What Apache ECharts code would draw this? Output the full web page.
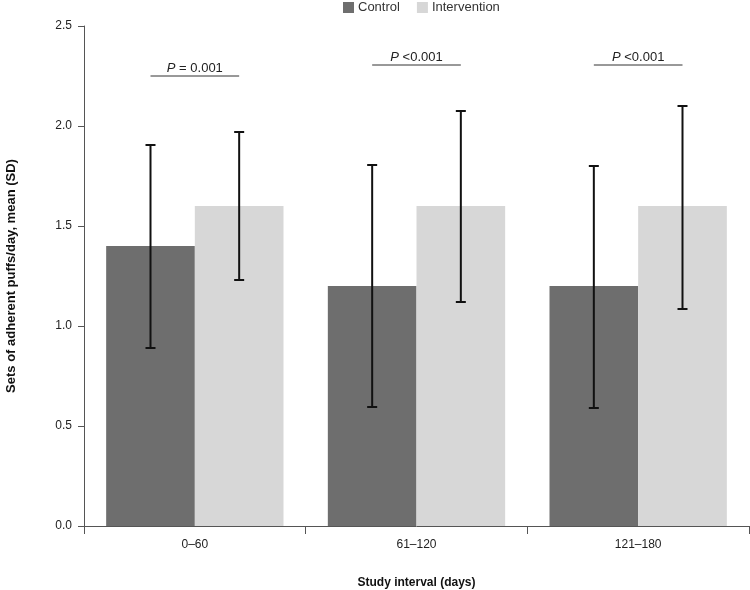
<!DOCTYPE html>
<html>
<head>
<meta charset="utf-8">
<script src="https://cdn.jsdelivr.net/npm/echarts@6/dist/echarts.min.js"></script>
<style>html,body{margin:0;padding:0;background:#fff}#c{width:750px;height:590px}</style>
</head>
<body>
<div id="c"></div>
<script>
var categories = ['0\u201360', '61\u2013120', '121\u2013180'];
var controlMean = [1.4, 1.2, 1.2];
var interventionMean = [1.6, 1.6, 1.6];
var controlLow = [0.89, 0.595, 0.59];
var controlHigh = [1.905, 1.805, 1.80];
var interventionLow = [1.23, 1.12, 1.085];
var interventionHigh = [1.97, 2.075, 2.10];
var pLabels = [' = 0.001', ' <0.001', ' <0.001'];
var pLevel = [2.25, 2.305, 2.305];
var yTicks = [0, 0.5, 1.0, 1.5, 2.0, 2.5];

var FONT = "'Liberation Sans', Arial, Helvetica, sans-serif";
var chart = echarts.init(document.getElementById('c'));

function errData(lo, hi) {
  return categories.map(function (c, i) { return [i, lo[i], hi[i]]; });
}
function errRender(sign) {
  return function (params, api) {
    var i = api.value(0);
    var lo = api.coord([i, api.value(1)]);
    var hi = api.coord([i, api.value(2)]);
    var band = api.size([1, 0])[0];
    var x = lo[0] + sign * band * 0.2;
    var cap = 5;
    var st = { stroke: '#111', lineWidth: 2 };
    return {
      type: 'group',
      children: [
        { type: 'line', shape: { x1: x, y1: lo[1], x2: x, y2: hi[1] }, style: st },
        { type: 'line', shape: { x1: x - cap, y1: lo[1], x2: x + cap, y2: lo[1] }, style: st },
        { type: 'line', shape: { x1: x - cap, y1: hi[1], x2: x + cap, y2: hi[1] }, style: st }
      ]
    };
  };
}

chart.setOption({
  animation: false,
  backgroundColor: '#fff',
  legend: {
    top: 1,
    left: 343,
    padding: 0,
    itemWidth: 11,
    itemHeight: 11,
    itemGap: 17,
    icon: 'rect',
    textStyle: { fontFamily: FONT, fontSize: 13, color: '#333', padding: [0, 0, 0, -1] },
    data: ['Control', 'Intervention']
  },
  grid: { left: 84, right: 1, top: 26, bottom: 64, outerBoundsMode: 'none', containLabel: false },
  xAxis: {
    type: 'category',
    data: categories,
    name: 'Study interval (days)',
    nameLocation: 'middle',
    nameGap: 51,
    nameTextStyle: { fontFamily: FONT, fontSize: 12, fontWeight: 'bold', color: '#111' },
    axisLine: { lineStyle: { color: '#555', width: 1 } },
    axisTick: { show: true, length: 8, lineStyle: { color: '#555' } },
    axisLabel: { fontFamily: FONT, fontSize: 12, color: '#222', margin: 13 }
  },
  yAxis: {
    type: 'value',
    min: 0,
    max: 2.5,
    interval: 0.5,
    name: 'Sets of adherent puffs/day, mean (SD)',
    nameLocation: 'middle',
    nameGap: 66,
    nameTextStyle: { fontFamily: FONT, fontSize: 13, fontWeight: 'bold', color: '#111' },
    axisLine: { show: true, lineStyle: { color: '#555', width: 1 } },
    axisTick: { show: true, length: 6, lineStyle: { color: '#555' } },
    splitLine: { show: false },
    axisLabel: {
      fontFamily: FONT, fontSize: 12, color: '#222', margin: 12,
      formatter: function (v) { return yTicks.indexOf(v) >= 0 ? v.toFixed(1) : ''; }
    }
  },
  series: [
    {
      name: 'Control', type: 'bar', data: controlMean,
      barGap: '0%', barCategoryGap: '20%',
      itemStyle: { color: '#6e6e6e' }
    },
    {
      name: 'Intervention', type: 'bar', data: interventionMean,
      barGap: '0%', barCategoryGap: '20%',
      itemStyle: { color: '#d7d7d7' }
    },
    {
      type: 'custom', z: 10, silent: true,
      data: errData(controlLow, controlHigh),
      encode: { x: 0, y: [1, 2] },
      renderItem: errRender(-1)
    },
    {
      type: 'custom', z: 10, silent: true,
      data: errData(interventionLow, interventionHigh),
      encode: { x: 0, y: [1, 2] },
      renderItem: errRender(1)
    },
    {
      type: 'custom', z: 10, silent: true,
      data: categories.map(function (c, i) { return [i, pLevel[i]]; }),
      encode: { x: 0, y: 1 },
      renderItem: function (params, api) {
        var i = api.value(0);
        var p = api.coord([i, api.value(1)]);
        var band = api.size([1, 0])[0];
        var x1 = p[0] - band * 0.2, x2 = p[0] + band * 0.2;
        return {
          type: 'group',
          children: [
            { type: 'line', shape: { x1: x1, y1: p[1], x2: x2, y2: p[1] }, style: { stroke: '#333', lineWidth: 1 } },
            {
              type: 'text',
              style: {
                x: p[0], y: p[1] - 1,
                text: '{i|P}{n|' + pLabels[params.dataIndex] + '}',
                align: 'center', verticalAlign: 'bottom',
                rich: {
                  i: { fontFamily: FONT, fontSize: 13, fontStyle: 'italic', fill: '#222' },
                  n: { fontFamily: FONT, fontSize: 13, fill: '#222' }
                }
              }
            }
          ]
        };
      }
    }
  ]
});
</script>
</body>
</html>
